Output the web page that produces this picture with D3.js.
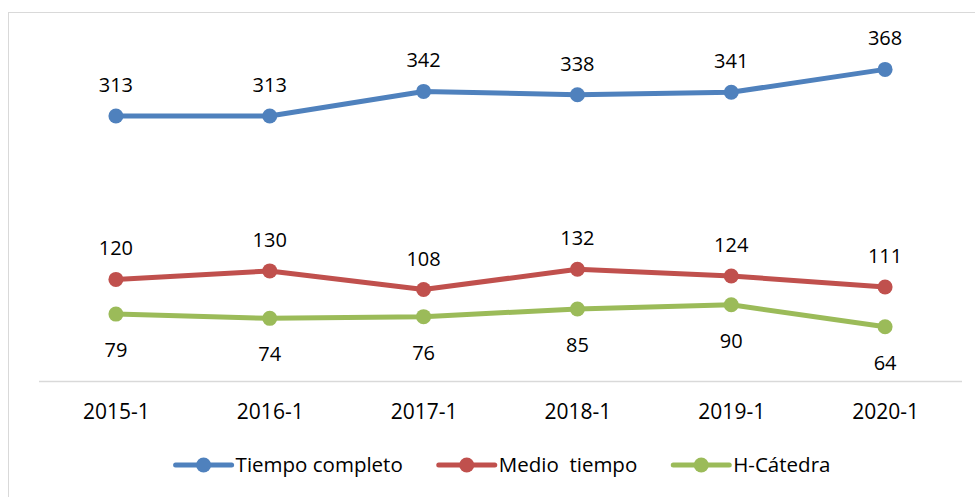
<!DOCTYPE html>
<html>
<head>
<meta charset="utf-8">
<script src="https://d3js.org/d3.v7.min.js"></script>
<style>
  body { margin: 0; background: #fff; }
  text { font-family: "Open Sans", "Liberation Sans", sans-serif; fill: #000; }
</style>
</head>
<body>
<div class="wrapper"></div>
<script>
// categorias (semestres)
var periodos = ["2015-1", "2016-1", "2017-1", "2018-1", "2019-1", "2020-1"];

// series
var tiempoCompleto = [313, 313, 342, 338, 341, 368];
var medioTiempo = [120, 130, 108, 132, 124, 111];
var hCatedra = [79, 74, 76, 85, 90, 64];

var nombres = ["Tiempo completo", "Medio  tiempo", "H-Cátedra"];
var colores = ["#4f81bd", "#c0504d", "#9bbb59"];

var width = 975, height = 497;

var svg = d3.select(".wrapper")
  .append("svg")
  .attr("width", width)
  .attr("height", height);

// borde del grafico
svg.append("rect")
  .attr("x", 8.5).attr("y", 12.5)
  .attr("width", width + 20).attr("height", height + 20)
  .style("fill", "none")
  .style("stroke", "#d9d9d9")
  .style("stroke-width", 1);

var x = d3.scalePoint()
  .domain(periodos)
  .range([39, 962])
  .padding(0.5);

var y = d3.scaleLinear()
  .domain([0, 400])
  .range([381, 42.3]);

// eje x
var xAxis = svg.append("g")
  .attr("transform", "translate(0," + y(0) + ")")
  .call(d3.axisBottom(x).tickSize(0).tickPadding(38));
xAxis.select(".domain")
  .attr("d", "M39,0.5H962")
  .style("stroke", "#d9d9d9")
  .style("stroke-width", 1.5);
xAxis.selectAll(".tick text")
  .style("font-size", "21px")
  .style("font-family", "'Open Sans', sans-serif")
  .attr("fill", "#000")
  .attr("dy", "0");

var series = [
  { nombre: nombres[0], valores: tiempoCompleto, color: colores[0], dy: -24 },
  { nombre: nombres[1], valores: medioTiempo, color: colores[1], dy: -24 },
  { nombre: nombres[2], valores: hCatedra, color: colores[2], dy: 43 }
];

var line = d3.line()
  .x(function(d, i) { return x(periodos[i]); })
  .y(function(d) { return y(d); });

series.forEach(function(s) {
  var g = svg.append("g");
  g.append("path")
    .attr("d", line(s.valores))
    .style("fill", "none")
    .style("stroke", s.color)
    .style("stroke-width", 5)
    .style("stroke-linejoin", "round");
  g.selectAll("circle")
    .data(s.valores).enter()
    .append("circle")
    .attr("cx", function(d, i) { return x(periodos[i]); })
    .attr("cy", function(d) { return y(d); })
    .attr("r", 7.5)
    .style("fill", s.color);
  g.selectAll("text")
    .data(s.valores).enter()
    .append("text")
    .attr("x", function(d, i) { return x(periodos[i]); })
    .attr("y", function(d) { return y(d) + s.dy; })
    .attr("text-anchor", "middle")
    .style("font-size", "20px")
    .text(function(d) { return d; });
});

// leyenda
var leyenda = svg.append("g");
var cx = 0;
series.forEach(function(s, i) {
  var item = leyenda.append("g").attr("transform", "translate(" + cx + ",0)");
  item.append("line")
    .attr("x1", 0).attr("x2", 56)
    .attr("y1", 0).attr("y2", 0)
    .style("stroke", s.color)
    .style("stroke-width", 5)
    .style("stroke-linecap", "round");
  item.append("circle")
    .attr("cx", 28).attr("cy", 0).attr("r", 7.5)
    .style("fill", s.color);
  var t = item.append("text")
    .attr("x", 60).attr("y", 7)
    .style("font-size", "20.5px")
    .style("white-space", "pre")
    .attr("xml:space", "preserve")
    .text(s.nombre);
  cx += 60 + t.node().getComputedTextLength() + 36;
});
var total = cx - 36;
leyenda.attr("transform", "translate(" + (503 - total / 2) + ",465)");
</script>
</body>
</html>
